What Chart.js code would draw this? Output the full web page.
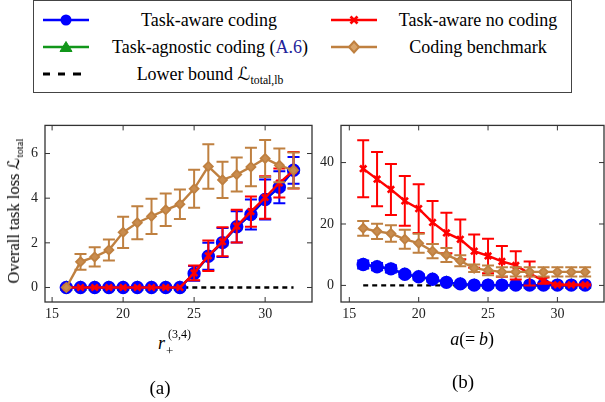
<!DOCTYPE html>
<html>
<head>
<meta charset="utf-8">
<script src="https://cdn.jsdelivr.net/npm/chart.js@4.4.0/dist/chart.umd.min.js"></script>
<style>
  body { margin: 0; width: 605px; height: 402px; overflow: hidden; background: #fff; position: relative; font-family: "Liberation Serif", "Times New Roman", serif; color: #000; }
  .abs { position: absolute; white-space: nowrap; }
  #legend { position: absolute; left: 33px; top: 0px; width: 537px; height: 91px; border: 1.3px solid #444; }
  .lgText { position: absolute; font-size: 18px; line-height: 18px; transform: translate(-50%, -50%); white-space: nowrap; }
  .lgIcon { position: absolute; }
  .cal { font-family: "DejaVu Sans", sans-serif; }
  sub { font-size: 65%; vertical-align: -0.35em; line-height: 0; }
</style>
</head>
<body>

<div id="legend"></div>

<div class="abs" style="left:0;top:110px"><canvas id="chartA" width="325" height="220"></canvas></div>
<div class="abs" style="left:300px;top:110px"><canvas id="chartB" width="320" height="220"></canvas></div>

<div class="abs" id="ytitle" style="left:14px;top:211px;font-size:16.5px;transform:translate(-50%,-50%) rotate(-90deg);">Overall task loss <span class="cal">ℒ</span><sub>total</sub></div>

<div class="abs" style="left:158px;top:334px;font-size:18px;line-height:18px;font-style:italic">r</div>
<div class="abs" style="left:166px;top:344px;font-size:13px;line-height:13px">+</div>
<div class="abs" style="left:168px;top:328px;font-size:12px;line-height:12px">(3,4)</div>
<div class="abs" style="left:130px;top:378px;width:60px;text-align:center;font-size:19px;line-height:19px">(a)</div>

<div class="abs" style="left:432px;top:330px;width:80px;text-align:center;font-size:18px;line-height:18px"><i>a</i>(=&thinsp;<i>b</i>)</div>
<div class="abs" style="left:433px;top:372px;width:60px;text-align:center;font-size:19px;line-height:19px">(b)</div>

<script>
// x values shared by both panels
const xVals = [16, 17, 18, 19, 20, 21, 22, 23, 24, 25, 26, 27, 28, 29, 30, 31, 32];

// panel (a): loss vs r_+^(3,4)
const aAwareCoding     = [0, 0, 0, 0, 0, 0, 0, 0, 0, 0.63, 1.40, 2.01, 2.72, 3.27, 3.94, 4.49, 5.25];
const aAwareCodingErr  = [0, 0, 0, 0, 0, 0, 0, 0, 0, 0.33, 0.60, 0.65, 0.70, 0.67, 0.90, 0.72, 0.60];
const aAgnostic        = [0, 0, 0, 0, 0, 0, 0, 0, 0, 0.63, 1.40, 2.01, 2.72, 3.27, 3.94, 4.49, 5.25];
const aNoCoding        = [0, 0, 0, 0, 0, 0, 0, 0, 0, 0.65, 1.42, 2.05, 2.75, 3.40, 4.03, 4.68, 5.25];
const aNoCodingErr     = [0, 0, 0, 0, 0, 0, 0, 0, 0, 0.33, 0.68, 0.65, 0.73, 0.68, 0.95, 0.65, 0.82];
const aBenchmark       = [0, 1.15, 1.37, 1.68, 2.47, 2.90, 3.19, 3.48, 3.73, 4.42, 5.42, 4.82, 5.06, 5.40, 5.78, 5.47, 5.25];
const aBenchmarkErr    = [0, 0.35, 0.43, 0.47, 0.70, 0.74, 0.79, 0.73, 0.66, 0.85, 1.00, 0.81, 0.76, 0.86, 0.83, 0.76, 0.80];
const aLowerBound      = [0, 0, 0, 0, 0, 0, 0, 0, 0, 0, 0, 0, 0, 0, 0, 0, 0];

// panel (b): loss vs a (= b)
const bAwareCoding     = [6.8, 6.1, 5.4, 3.65, 2.8, 2.0, 1.0, 0.5, 0.1, 0.1, 0.1, 0.1, 0.1, 0.1, 0.1, 0.1, 0.1];
const bAwareCodingErr  = [1.3, 1.2, 1.2, 0.9, 0.8, 0.6, 0.4, 0.3, 0, 0, 0, 0, 0, 0, 0, 0, 0];
const bAgnostic        = [6.8, 6.1, 5.4, 3.65, 2.8, 2.0, 1.0, 0.5, 0.1, 0.1, 0.1, 0.1, 0.1, 0.1, 0.1, 0.1, 0.1];
const bNoCoding        = [38.0, 34.6, 31.25, 27.5, 25.0, 20.5, 17.1, 15.0, 11.15, 9.6, 7.8, 6.5, 3.85, 1.56, 0.2, 0.2, 0.2];
const bNoCodingErr     = [9.3, 8.8, 8.3, 8.1, 7.9, 7.0, 6.6, 6.5, 5.4, 5.6, 5.0, 4.6, 3.9, 1.0, 0.2, 0.2, 0.2];
const bBenchmark       = [18.6, 17.6, 16.9, 15.0, 13.75, 11.15, 9.9, 8.0, 5.6, 4.9, 4.4, 4.4, 4.4, 4.4, 4.4, 4.4, 4.4];
const bBenchmarkErr    = [2.4, 2.5, 2.7, 3.1, 3.1, 2.3, 2.3, 1.8, 1.2, 1.6, 1.5, 1.5, 1.5, 1.5, 1.5, 1.5, 1.5];
const bLowerBound      = [0, 0, 0, 0, 0, 0, 0, 0, 0, 0, 0, 0, 0, 0, 0, 0, 0];

// tick labels
const xTicks  = [15, 20, 25, 30];
const aYTicks = [0, 2, 4, 6];
const bYTicks = [0, 20, 40];

const BLUE = '#0000ff', RED = '#ff0000', GREEN = '#11961a', BROWN = '#bf8040', BROWN_FILL = '#c98c4e';
const SERIF = "'Liberation Serif', serif";

Chart.defaults.font.family = SERIF;

// legend (html, real text)
const legendItems = [
    { kind: 'blue',  text: 'Task-aware coding',  x: 42,  cx: 208, y: 19 },
    { kind: 'red',   text: 'Task-aware no coding', x: 330, cx: 477, y: 19 },
    { kind: 'green', text: 'Task-agnostic coding (<span style="color:#23239a">A.6</span>)', x: 42, cx: 209, y: 46 },
    { kind: 'brown', text: 'Coding benchmark',   x: 330, cx: 477, y: 46 },
    { kind: 'black', text: 'Lower bound <span class="cal">ℒ</span><sub>total,lb</sub>', x: 42, cx: 209, y: 73 }
];

function iconSvg(kind) {
    let s = '<svg width="46" height="14" xmlns="http://www.w3.org/2000/svg">';
    if (kind === 'black') {
        s += '<g stroke="#000" stroke-width="3"><line x1="0" y1="7" x2="7" y2="7"/><line x1="15" y1="7" x2="22" y2="7"/><line x1="30" y1="7" x2="38" y2="7"/></g>';
    } else {
        const c = { blue: BLUE, red: RED, green: GREEN, brown: BROWN }[kind];
        s += '<line x1="0" y1="7" x2="46" y2="7" stroke="' + c + '" stroke-width="2.6"/>';
        if (kind === 'blue') s += '<circle cx="23" cy="7" r="5.5" fill="' + c + '"/>';
        if (kind === 'red') s += '<g stroke="' + c + '" stroke-width="2.6"><line x1="19.5" y1="3.5" x2="26.5" y2="10.5"/><line x1="26.5" y1="3.5" x2="19.5" y2="10.5"/></g>';
        if (kind === 'green') s += '<polygon points="23,1.5 17,11.5 29,11.5" fill="' + c + '" stroke="' + c + '" stroke-width="1"/>';
        if (kind === 'brown') s += '<polygon points="23,1.5 28,7 23,12.5 18,7" fill="#d9a46a" stroke="' + c + '" stroke-width="2"/>';
    }
    return s + '</svg>';
}

const legendBox = document.getElementById('legend');
legendItems.forEach(function (it) {
    const icon = document.createElement('div');
    icon.className = 'lgIcon';
    icon.style.left = (it.x - 33) + 'px';
    icon.style.top = (it.y - 7) + 'px';
    icon.innerHTML = iconSvg(it.kind);
    legendBox.appendChild(icon);
    const t = document.createElement('div');
    t.className = 'lgText';
    t.style.left = (it.cx - 33) + 'px';
    t.style.top = it.y + 'px';
    t.innerHTML = it.text;
    legendBox.appendChild(t);
});

// error bars drawn right before each dataset
const errorBarPlugin = {
    id: 'errorBars',
    beforeDatasetDraw(chart, args) {
        const ds = chart.data.datasets[args.index];
        if (!ds.errors) return;
        const ctx = chart.ctx, xs = chart.scales.x, ys = chart.scales.y;
        ctx.save();
        ctx.strokeStyle = ds.borderColor;
        ctx.lineWidth = 2;
        ds.data.forEach(function (p, i) {
            const e = ds.errors[i];
            if (!e) return;
            const x = xs.getPixelForValue(p.x);
            const y1 = ys.getPixelForValue(p.y + e);
            const y2 = ys.getPixelForValue(p.y - e);
            ctx.beginPath();
            ctx.moveTo(x, y1); ctx.lineTo(x, y2);
            ctx.moveTo(x - 6, y1); ctx.lineTo(x + 6, y1);
            ctx.moveTo(x - 6, y2); ctx.lineTo(x + 6, y2);
            ctx.stroke();
        });
        ctx.restore();
    }
};

// pgfplots style box with inward ticks
const framePlugin = {
    id: 'frame',
    afterDraw(chart) {
        const a = chart.chartArea, ctx = chart.ctx;
        ctx.save();
        ctx.strokeStyle = '#333';
        ctx.lineWidth = 1.3;
        ctx.strokeRect(a.left, a.top, a.right - a.left, a.bottom - a.top);
        ctx.lineWidth = 1;
        ctx.beginPath();
        chart.scales.x.ticks.forEach(function (t) {
            const x = chart.scales.x.getPixelForValue(t.value);
            ctx.moveTo(x, a.bottom); ctx.lineTo(x, a.bottom - 5);
            ctx.moveTo(x, a.top); ctx.lineTo(x, a.top + 5);
        });
        chart.scales.y.ticks.forEach(function (t) {
            const y = chart.scales.y.getPixelForValue(t.value);
            ctx.moveTo(a.left, y); ctx.lineTo(a.left + 5, y);
            ctx.moveTo(a.right, y); ctx.lineTo(a.right - 5, y);
        });
        ctx.stroke();
        ctx.restore();
    }
};

function pts(ys) {
    return xVals.map(function (x, i) { return { x: x, y: ys[i] }; });
}

function makeDatasets(coding, codingErr, agnostic, noCoding, noCodingErr, bench, benchErr, lower) {
    return [
        { label: 'Lower bound', data: pts(lower), borderColor: '#000', borderWidth: 2.4, borderDash: [5, 4], pointRadius: 0, order: 5 },
        { label: 'Task-agnostic coding', data: pts(agnostic), borderColor: GREEN, backgroundColor: GREEN, borderWidth: 2.2, pointStyle: 'triangle', pointRadius: 5, order: 4 },
        { label: 'Task-aware coding', data: pts(coding), errors: codingErr, borderColor: BLUE, backgroundColor: BLUE, borderWidth: 2.4, pointStyle: 'circle', pointRadius: 5.5, order: 3 },
        { label: 'Task-aware no coding', data: pts(noCoding), errors: noCodingErr, borderColor: RED, backgroundColor: RED, borderWidth: 2.4, pointStyle: 'crossRot', pointRadius: 4.5, pointBorderWidth: 2.6, order: 2 },
        { label: 'Coding benchmark', data: pts(bench), errors: benchErr, borderColor: BROWN, backgroundColor: BROWN_FILL, borderWidth: 2.4, pointStyle: 'rectRot', pointRadius: 4.5, pointBorderWidth: 1.8, order: 1 }
    ];
}

function makeChart(id, datasets, xr, yr, yTicks, yWidth, padRight) {
    const tickFont = { family: SERIF, size: 14 };
    return new Chart(document.getElementById(id).getContext('2d'), {
        type: 'line',
        data: { datasets: datasets },
        options: {
            responsive: false,
            animation: false,
            layout: { padding: { top: 9, right: padRight, left: 0, bottom: 0 } },
            plugins: { legend: { display: false }, tooltip: { enabled: false } },
            elements: { line: { tension: 0 } },
            scales: {
                x: {
                    type: 'linear', min: xr[0], max: xr[1],
                    grid: { display: false, drawTicks: false }, border: { display: false },
                    ticks: { font: tickFont, color: '#222', padding: 4, maxRotation: 0 },
                    afterBuildTicks: function (s) { s.ticks = xTicks.map(function (v) { return { value: v }; }); },
                    afterFit: function (s) { s.height = 28; }
                },
                y: {
                    type: 'linear', min: yr[0], max: yr[1],
                    grid: { display: false, drawTicks: false }, border: { display: false },
                    ticks: { font: tickFont, color: '#222', padding: 7 },
                    afterBuildTicks: function (s) { s.ticks = yTicks.map(function (v) { return { value: v }; }); },
                    afterFit: function (s) { s.width = yWidth; }
                }
            }
        },
        plugins: [errorBarPlugin, framePlugin]
    });
}

makeChart('chartA',
    makeDatasets(aAwareCoding, aAwareCodingErr, aAgnostic, aNoCoding, aNoCodingErr, aBenchmark, aBenchmarkErr, aLowerBound),
    [14.5, 33.3], [-0.65, 7.26], aYTicks, 45, 13);

makeChart('chartB',
    makeDatasets(bAwareCoding, bAwareCodingErr, bAgnostic, bNoCoding, bNoCodingErr, bBenchmark, bBenchmarkErr, bLowerBound),
    [14.4, 33.36], [-5.4, 52.1], bYTicks, 41, 16);
</script>
</body>
</html>
